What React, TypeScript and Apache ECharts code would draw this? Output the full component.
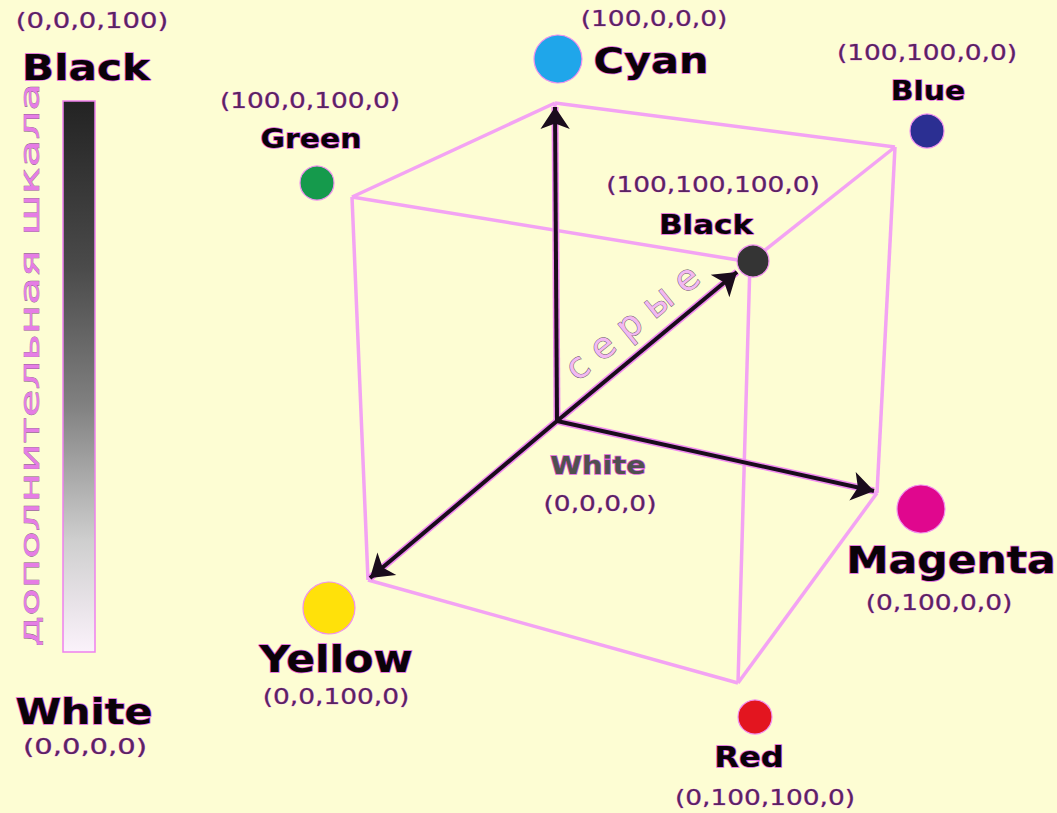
import React, { useEffect, useRef } from "react";
import * as echarts from "echarts";

// Cube corners (CMY cube) – names, CMYK tuples and their positions on the drawing
const cornerNames = ["White", "Cyan", "Magenta", "Yellow", "Blue", "Green", "Red", "Black"];
const cornerCMYK = ["(0,0,0,0)", "(100,0,0,0)", "(0,100,0,0)", "(0,0,100,0)", "(100,100,0,0)", "(100,0,100,0)", "(0,100,100,0)", "(100,100,100,0)"];
const cornerX = [557, 555, 877, 368, 895, 352, 738, 750];
const cornerY = [421, 103, 493, 580, 147, 197, 683, 262];

// cube edges as pairs of corner indices
const cubeEdges = [[1, 4], [1, 5], [4, 7], [5, 7], [3, 5], [2, 4], [6, 7], [3, 6], [2, 6], [0, 1], [0, 2], [0, 3]];

// axes drawn as arrows from White
const arrowTargets = [1, 2, 3, 7];
const arrowTipX = [555, 874, 370, 737];
const arrowTipY = [107, 491, 578, 272];

// colour dots
const dotNames = ["Cyan", "Blue", "Green", "Black", "Magenta", "Yellow", "Red"];
const dotX = [558, 927, 317, 753, 921, 329, 755];
const dotY = [59, 131, 183, 261, 509, 608, 717];
const dotSize = [48, 34, 34, 32, 48, 52, 34];
const dotColor = ["#1fa6ea", "#2b2f92", "#159a4c", "#343434", "#e0078e", "#ffe10a", "#e3151f"];

// label layout
const nameX = [598, 651, 951, 336, 928, 311, 749, 706];
const nameY = [465, 60, 560, 659, 91, 139, 757, 225];
const nameSize = [25, 36, 37, 37, 26, 26, 28, 27];
const tupleX = [600, 654, 939, 336, 927, 310, 765, 713];
const tupleY = [503, 18, 602, 696, 52, 100, 797, 184];

// side scale (K channel)
const scaleTop = ["(0,0,0,100)", "Black"];
const scaleBottom = ["White", "(0,0,0,0)"];
const scaleTitle = "дополнительная шкала";
const grayTitle = "с е р ы е";

export default function App() {
  const ref = useRef<HTMLDivElement>(null);
  useEffect(() => {
    if (!ref.current) return;
    const chart = echarts.init(ref.current, undefined, { renderer: "svg" });

    const edgeData = cubeEdges.map(([a, b]) => ({
      coords: [[cornerX[a], cornerY[a]], [cornerX[b], cornerY[b]]],
    }));
    const arrowData = arrowTargets.map((t, i) => ({
      coords: [[cornerX[0], cornerY[0]], [arrowTipX[i], arrowTipY[i]]],
    }));

    const tupleStyle = (s: string) => ({
      text: s,
      fontFamily: "DejaVu Sans",
      fontSize: 22,
      fill: "#5a2462",
      stroke: "#e878e8",
      lineWidth: 0.6,
      align: "center",
      verticalAlign: "middle",
    });
    const nameStyle = (s: string, size: number, fill = "#0a0208") => ({
      text: s,
      fontFamily: "DejaVu Sans",
      fontWeight: "bold",
      fontSize: size,
      fill,
      stroke: "#e060e0",
      lineWidth: 1.5,
      align: "center",
      verticalAlign: "middle",
    });

    const graphics: any[] = [];
    cornerNames.forEach((n, i) => {
      graphics.push({
        type: "text", x: nameX[i], y: nameY[i], scaleX: 1.15, z: 10,
        style: nameStyle(n, nameSize[i], i === 0 ? "#505050" : "#0a0208"),
      });
      graphics.push({
        type: "text", x: tupleX[i], y: tupleY[i], scaleX: 1.2, z: 10,
        style: tupleStyle(cornerCMYK[i]),
      });
    });
    // side scale
    graphics.push({
      type: "rect", shape: { x: 63, y: 101, width: 32, height: 551 }, z: 5,
      style: {
        fill: new echarts.graphic.LinearGradient(0, 0, 0, 1, [
          { offset: 0, color: "#232323" },
          { offset: 0.3, color: "#4a4a4a" },
          { offset: 0.55, color: "#808080" },
          { offset: 0.8, color: "#cfcfcf" },
          { offset: 1, color: "#fbf2fb" },
        ]),
        stroke: "#ee80ee",
        lineWidth: 1.5,
      },
    });
    graphics.push({ type: "text", x: 92, y: 20, scaleX: 1.25, z: 10, style: tupleStyle(scaleTop[0]) });
    graphics.push({ type: "text", x: 86, y: 68, scaleX: 1.17, z: 10, style: nameStyle(scaleTop[1], 36) });
    graphics.push({ type: "text", x: 84, y: 711, scaleX: 1.15, z: 10, style: nameStyle(scaleBottom[0], 36) });
    graphics.push({ type: "text", x: 85, y: 746, scaleX: 1.32, z: 10, style: tupleStyle(scaleBottom[1]) });
    graphics.push({
      type: "text", x: 30, y: 365, rotation: Math.PI / 2, scaleX: 1.67, z: 10,
      style: {
        text: scaleTitle, fontFamily: "DejaVu Sans", fontSize: 27,
        fill: "#e57de5", stroke: "#7a5a7a", lineWidth: 0.5,
        align: "center", verticalAlign: "middle",
      },
    });
    graphics.push({
      type: "text", x: 632, y: 322, rotation: (39 * Math.PI) / 180, scaleX: 1.0, z: 10,
      style: {
        text: grayTitle, fontFamily: "DejaVu Sans", fontSize: 36,
        fill: "#f2b8f2", stroke: "#6a5a6a", lineWidth: 1,
        align: "center", verticalAlign: "middle",
      },
    });

    chart.setOption({
      animation: false,
      backgroundColor: "#fdfdd3",
      grid: { left: 0, right: 0, top: 0, bottom: 0 },
      xAxis: { type: "value", min: 0, max: 1057, show: false },
      yAxis: { type: "value", min: 0, max: 813, inverse: true, show: false },
      series: [
        {
          type: "lines", coordinateSystem: "cartesian2d", z: 1,
          lineStyle: { color: "#f3a3f3", width: 3.5, opacity: 1 },
          data: edgeData,
        },
        {
          type: "lines", coordinateSystem: "cartesian2d", z: 2,
          lineStyle: { color: "#f08af0", width: 7, opacity: 1 },
          data: arrowData,
        },
        {
          type: "lines", coordinateSystem: "cartesian2d", z: 3,
          symbol: ["none", "arrow"], symbolSize: 22,
          lineStyle: { color: "#1a0c1c", width: 4, opacity: 1 },
          data: arrowData,
        },
        {
          type: "scatter", z: 4,
          data: dotNames.map((n, i) => ({
            name: n,
            value: [dotX[i], dotY[i]],
            symbolSize: dotSize[i],
            itemStyle: { color: dotColor[i], borderColor: "#f090f0", borderWidth: 1.2, opacity: 1 },
          })),
        },
      ],
      graphic: graphics,
    });
    return () => chart.dispose();
  }, []);
  return <div ref={ref} style={{ position: "absolute", left: 0, top: 0, width: 1057, height: 813 }} />;
}
